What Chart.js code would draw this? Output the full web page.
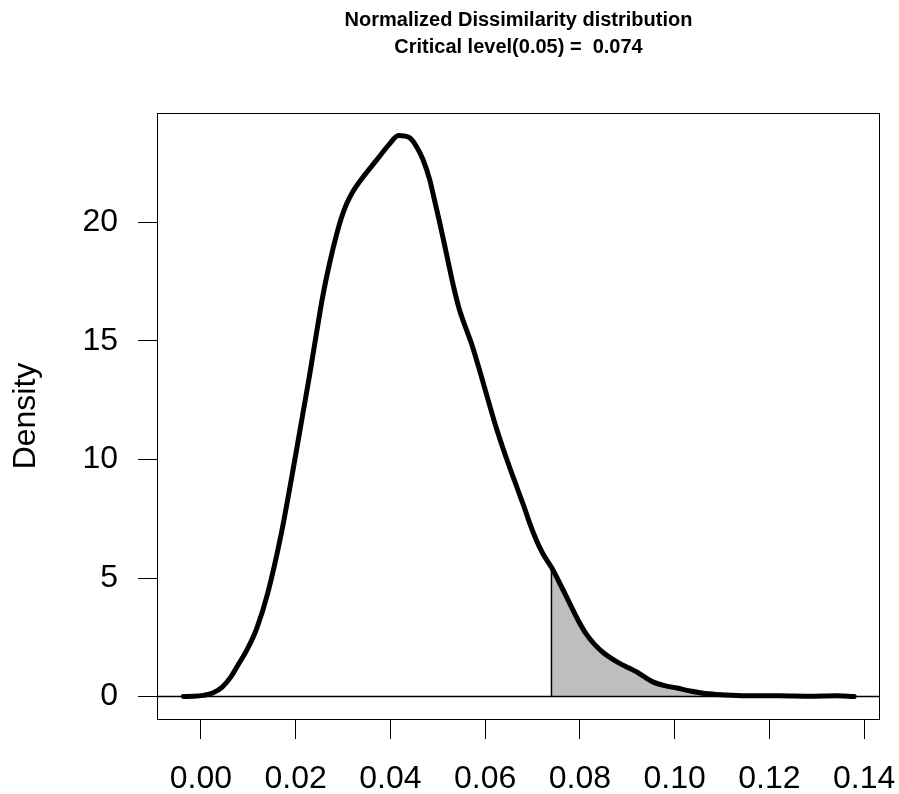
<!DOCTYPE html>
<html>
<head>
<meta charset="utf-8">
<script src="https://cdn.jsdelivr.net/npm/chart.js@4/dist/chart.umd.min.js"></script>
<style>
  html, body { margin: 0; padding: 0; background: #fff; }
  canvas { display: block; }
</style>
</head>
<body>
<canvas id="c" width="899" height="794"></canvas>
<script>
// density curve
const densX = [-0.0037, -0.0015, 0.0005, 0.0025, 0.0045, 0.0063, 0.0080, 0.0098, 0.0118, 0.0141,
  0.0169, 0.0194, 0.0215, 0.0229, 0.0243, 0.0257, 0.0272, 0.0286, 0.0296, 0.0307,
  0.0321, 0.0342, 0.0370, 0.0398, 0.0417, 0.0441, 0.0455, 0.0469, 0.0483, 0.0493,
  0.0504, 0.0514, 0.0525, 0.0535, 0.0546, 0.0560, 0.0571, 0.0588, 0.0610, 0.0624,
  0.0638, 0.0652, 0.0663, 0.0673, 0.0684, 0.0694, 0.0708, 0.0722, 0.0740, 0.0757,
  0.0778, 0.0796, 0.0814, 0.0832, 0.0849, 0.0868, 0.0884, 0.0905, 0.0920, 0.0937,
  0.0954, 0.0979, 0.1005, 0.1032, 0.1064, 0.1110, 0.1159, 0.1222, 0.1286, 0.1339,
  0.1379];
const densY = [0.00, 0.01, 0.05, 0.15, 0.40, 0.82, 1.38, 2.00, 2.88, 4.35,
  6.80, 9.50, 11.90, 13.50, 15.20, 16.85, 18.30, 19.45, 20.15, 20.75,
  21.30, 21.90, 22.60, 23.30, 23.66, 23.56, 23.20, 22.64, 21.80, 20.95,
  20.00, 19.08, 18.05, 17.15, 16.30, 15.50, 14.90, 13.78, 12.25, 11.30,
  10.45, 9.65, 9.05, 8.50, 7.90, 7.31, 6.60, 6.02, 5.45, 4.80,
  3.95, 3.23, 2.62, 2.18, 1.86, 1.59, 1.40, 1.19, 1.04, 0.82,
  0.62, 0.46, 0.36, 0.24, 0.13, 0.07, 0.03, 0.03, 0.01, 0.03,
  0.00];
const critX = 0.074;
const xTicks = [0, 0.02, 0.04, 0.06, 0.08, 0.10, 0.12, 0.14];
const yTicks = [0, 5, 10, 15, 20];
const titleLines = ['Normalized Dissimilarity distribution', 'Critical level(0.05) =  0.074'];

const FONT = "'Liberation Sans', Arial, Helvetica, sans-serif";
Chart.defaults.color = '#000';
Chart.defaults.font.family = FONT;

const curve = densX.map((x, i) => ({ x: x, y: densY[i] }));
const tail = curve.filter(p => p.x >= critX);
const critY = tail[0].y;

// box + zero line
const boxPlugin = {
  id: 'box',
  afterDatasetsDraw(chart) {
    const { ctx, chartArea: a, scales } = chart;
    const y0 = scales.y.getPixelForValue(0);
    ctx.save();
    ctx.strokeStyle = '#000';
    ctx.lineWidth = 1.5;
    ctx.beginPath();
    ctx.moveTo(a.left, y0);
    ctx.lineTo(a.right, y0);
    ctx.stroke();
    ctx.lineWidth = 1;
    ctx.strokeRect(a.left + 0.5, a.top + 0.5, a.right - a.left - 1, a.bottom - a.top);
    ctx.restore();
  }
};

new Chart(document.getElementById('c'), {
  type: 'line',
  data: {
    datasets: [
      {
        data: curve,
        borderColor: '#000',
        borderWidth: 5,
        borderCapStyle: 'round',
        borderJoinStyle: 'round',
        cubicInterpolationMode: 'monotone',
        pointRadius: 0,
        fill: false
      },
      {
        data: [{ x: critX, y: 0 }, { x: critX, y: critY }],
        borderColor: '#000',
        borderWidth: 1.5,
        pointRadius: 0,
        fill: false
      },
      {
        data: tail,
        borderWidth: 0,
        borderColor: 'rgba(0,0,0,0)',
        backgroundColor: '#bebebe',
        cubicInterpolationMode: 'monotone',
        pointRadius: 0,
        fill: 'origin'
      }
    ]
  },
  options: {
    responsive: false,
    devicePixelRatio: 1,
    animation: false,
    layout: { padding: { left: 0, right: 19, top: 0, bottom: 0 } },
    plugins: {
      legend: { display: false },
      tooltip: { enabled: false },
      title: {
        display: true,
        text: titleLines,
        fullSize: false,
        font: { size: 20, weight: 'bold', lineHeight: 1.35 },
        color: '#000',
        padding: { top: 7, bottom: 52 }
      }
    },
    scales: {
      x: {
        type: 'linear',
        min: -0.00926,
        max: 0.14335,
        afterBuildTicks: s => { s.ticks = xTicks.map(v => ({ value: v })); },
        afterFit: s => { s.height = 75; s.paddingLeft = 0; s.paddingRight = 0; },
        grid: { drawOnChartArea: false, drawTicks: true, tickLength: 20, color: '#000', lineWidth: 1 },
        border: { display: false },
        ticks: {
          font: { size: 32 },
          padding: 21,
          maxRotation: 0,
          autoSkip: false,
          callback: v => v.toFixed(2)
        }
      },
      y: {
        type: 'linear',
        min: -0.946,
        max: 24.61,
        afterBuildTicks: s => { s.ticks = yTicks.map(v => ({ value: v })); },
        afterFit: s => { s.width = 157; s.paddingTop = 0; s.paddingBottom = 0; },
        grid: { drawOnChartArea: false, drawTicks: true, tickLength: 19, color: '#000', lineWidth: 1 },
        border: { display: false },
        ticks: {
          font: { size: 32 },
          padding: 20,
          autoSkip: false,
          callback: v => String(v)
        },
        title: {
          display: true,
          text: 'Density',
          font: { size: 32 },
          padding: { top: 7, bottom: 0 }
        }
      }
    }
  },
  plugins: [boxPlugin]
});
</script>
</body>
</html>
